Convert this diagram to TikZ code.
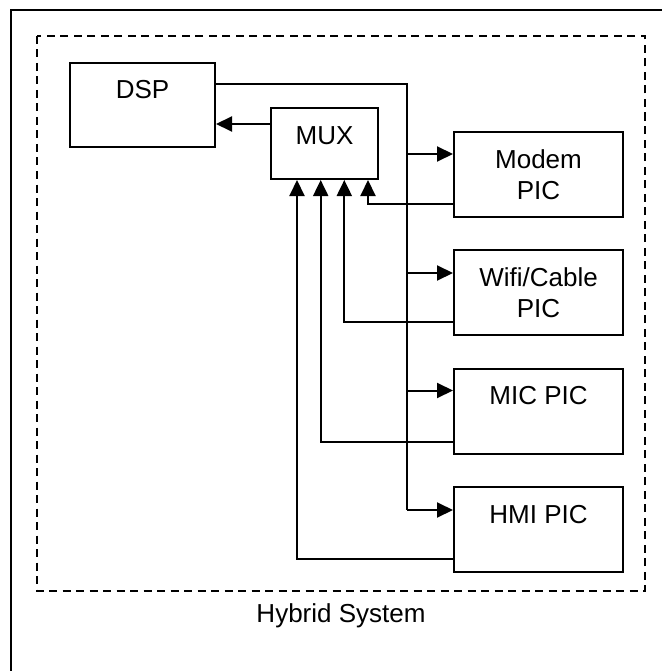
\documentclass[tikz,border=0pt]{standalone}
\usepackage{fontspec}
\setmainfont{Liberation Sans}
\usetikzlibrary{arrows.meta}
\begin{document}
\begin{tikzpicture}[x=1pt,y=-1pt,
  box/.style={draw,line width=2pt,inner sep=0pt,align=center,font=\fontsize{26}{31}\selectfont},
  pic/.style={box,minimum width=169pt,minimum height=85pt},
  conn/.style={line width=2pt},
  arr/.style={conn,-{Triangle[length=16pt,width=15pt]}},
  frame/.style={line width=2.2pt},
  sysbox/.style={line width=2pt,dash pattern=on 8pt off 5.5pt},
  lbl/.style={font=\fontsize{26}{31}\selectfont}
  ]
\useasboundingbox (0,0) rectangle (662,671);
\draw[frame] (11,671) -- (11,10) -- (662,10);
\draw[sysbox] (37,36) rectangle (645,591);
\node[lbl] (sys) at (341,616) {Hybrid System};

\node[box,minimum width=145pt,minimum height=84pt] (dsp) at (142.5,105) {DSP\\\mbox{}};
\node[box,minimum width=107pt,minimum height=71pt] (mux) at (324.5,143.5) {MUX\\[-16pt]\mbox{}};
\node[pic] (modem) at (538.5,174.5) {Modem\\PIC};
\node[pic] (wifi) at (538.5,292.5) {Wifi/Cable\\PIC};
\node[pic] (mic) at (538.5,411) {MIC PIC\\\mbox{}};
\node[pic] (hmi) at (538.5,529.5) {HMI PIC\\\mbox{}};

% bus from DSP to the PICs
\coordinate (bt) at (407,84);
\coordinate (modemin) at ([yshift=-23pt]modem.north west);
\coordinate (wifiin) at ([yshift=-24pt]wifi.north west);
\coordinate (micin) at ([yshift=-23pt]mic.north west);
\coordinate (hmiin) at ([yshift=-24pt]hmi.north west);
\draw[conn] (dsp.east |- bt) -- (bt) -- (bt |- hmiin);
\draw[arr] (bt |- modemin) -- (modemin);
\draw[arr] (bt |- wifiin) -- (wifiin);
\draw[arr] (bt |- micin) -- (micin);
\draw[arr] (bt |- hmiin) -- (hmiin);

% MUX to DSP
\draw[arr] ([yshift=19.5pt]mux.west) -- ([yshift=19.5pt]mux.west -| dsp.east);

% returns from the PICs to MUX
\coordinate (modemout) at ([yshift=14pt]modem.south west);
\coordinate (wifiout) at ([yshift=14pt]wifi.south west);
\coordinate (micout) at ([yshift=13pt]mic.south west);
\coordinate (hmiout) at ([yshift=14pt]hmi.south west);
\draw[arr] (modemout) -| ([xshift=43.5pt]mux.south);
\draw[arr] (wifiout) -| ([xshift=19.8pt]mux.south);
\draw[arr] (micout) -| ([xshift=-3.8pt]mux.south);
\draw[arr] (hmiout) -| ([xshift=-27.5pt]mux.south);
\end{tikzpicture}
\end{document}
